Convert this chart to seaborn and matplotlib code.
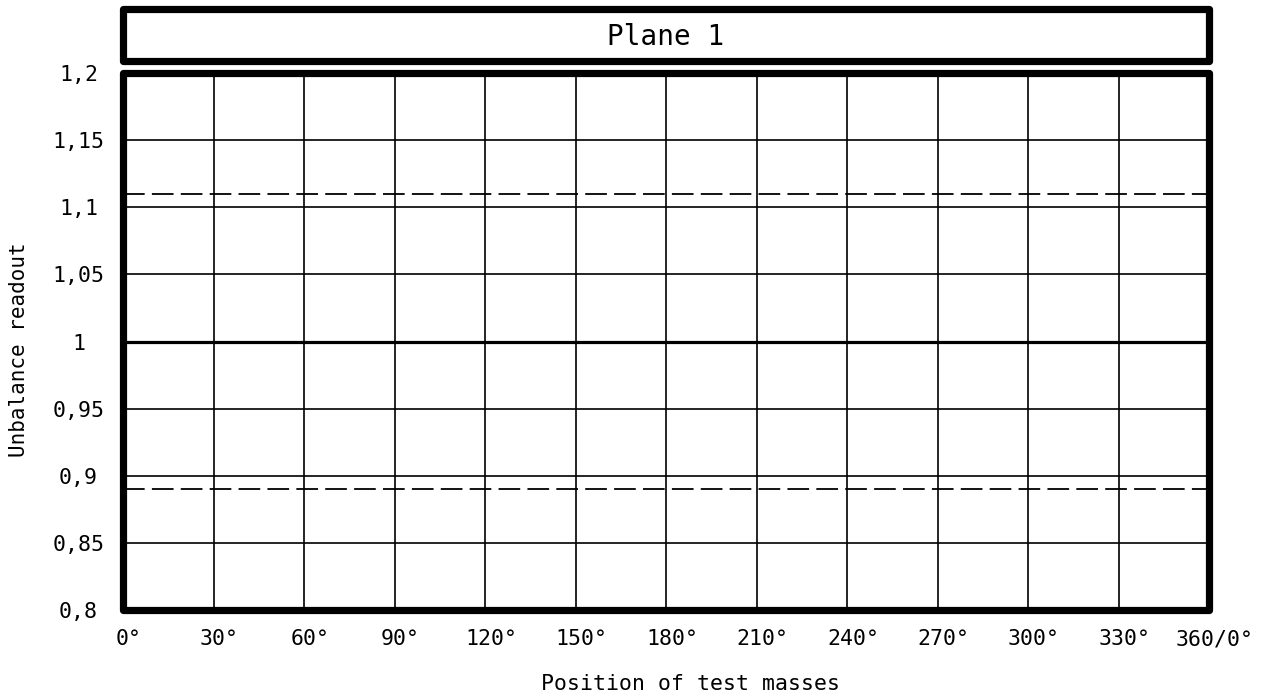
import seaborn as sns
import pandas as pd
import matplotlib.pyplot as plt
import matplotlib.transforms as mtransforms
from matplotlib.patches import Rectangle

# данные графика
positions = [0, 30, 60, 90, 120, 150, 180, 210, 240, 270, 300, 330, 360]
position_labels = ["0°", "30°", "60°", "90°", "120°", "150°", "180°",
                   "210°", "240°", "270°", "300°", "330°", "360/0°"]
readout_ticks = [1.2, 1.15, 1.1, 1.05, 1.0, 0.95, 0.9, 0.85, 0.8]
readout_labels = ["1,2", "1,15", "1,1", "1,05", "1", "0,95", "0,9", "0,85", "0,8"]
nominal = 1.0
upper_limit = 1.11
lower_limit = 0.89
plane_title = "Plane 1"

sns.set_style("white")
plt.rcParams['font.family'] = ['DejaVu Sans Mono', 'DejaVu Sans']
plt.rcParams['text.color'] = 'black'
plt.rcParams['axes.labelcolor'] = 'black'
plt.rcParams['xtick.color'] = 'black'
plt.rcParams['ytick.color'] = 'black'

fig = plt.figure(figsize=(12.71, 6.99), dpi=100)
W, H = 1271, 699

def box(x0, y0, x1, y1):
    return [x0 / W, 1 - y1 / H, (x1 - x0) / W, (y1 - y0) / H]

ax = fig.add_axes(box(123, 73, 1209, 610))
ax_title = fig.add_axes(box(123, 9, 1209, 61))

limits = pd.DataFrame({
    "x": [positions[0], positions[-1]] * 2,
    "y": [upper_limit, upper_limit, lower_limit, lower_limit],
    "line": ["upper", "upper", "lower", "lower"],
})
sns.lineplot(data=limits, x="x", y="y", units="line", estimator=None,
             color="black", linewidth=1.3, dashes=False, ax=ax, zorder=3)
for ln in ax.get_lines():
    ln.set_dashes((12, 4))

sns.lineplot(x=[positions[0], positions[-1]], y=[nominal, nominal],
             color="black", linewidth=2.3, ax=ax, zorder=3)

ax.set_xlim(positions[0], positions[-1])
ax.set_ylim(readout_ticks[-1], readout_ticks[0])
ax.set_xticks(positions)
ax.set_xticklabels(position_labels, fontsize=15.5)
ax.set_yticks(readout_ticks)
ax.set_yticklabels(readout_labels, fontsize=15.5)
ax.grid(True, color="black", linewidth=1.2)
ax.tick_params(axis="both", length=0, labelcolor="black")
ax.tick_params(axis="x", pad=14)
ax.tick_params(axis="y", pad=32)
for lbl in ax.get_yticklabels():
    lbl.set_horizontalalignment("center")
shift = mtransforms.ScaledTranslation(6 / 100, 0, fig.dpi_scale_trans)
for lbl in ax.get_xticklabels():
    lbl.set_transform(lbl.get_transform() + shift)

ax.set_xlabel("Position of test masses", fontsize=15.5)
ax.xaxis.set_label_coords(0.523, -0.12)
ax.set_ylabel("Unbalance readout", fontsize=15)
ax.yaxis.set_label_coords(-0.087, 0.484)

for a in (ax, ax_title):
    for s in a.spines.values():
        s.set_visible(False)
    a.add_patch(Rectangle((0, 0), 1, 1, transform=a.transAxes, fill=False,
                          edgecolor="black", linewidth=5.2, joinstyle="round",
                          clip_on=False, zorder=5))

ax_title.set_xticks([])
ax_title.set_yticks([])
ax_title.text(0.5, 0.46, plane_title, ha="center", va="center", fontsize=20,
              transform=ax_title.transAxes)

plt.savefig("out.png", dpi=100)
